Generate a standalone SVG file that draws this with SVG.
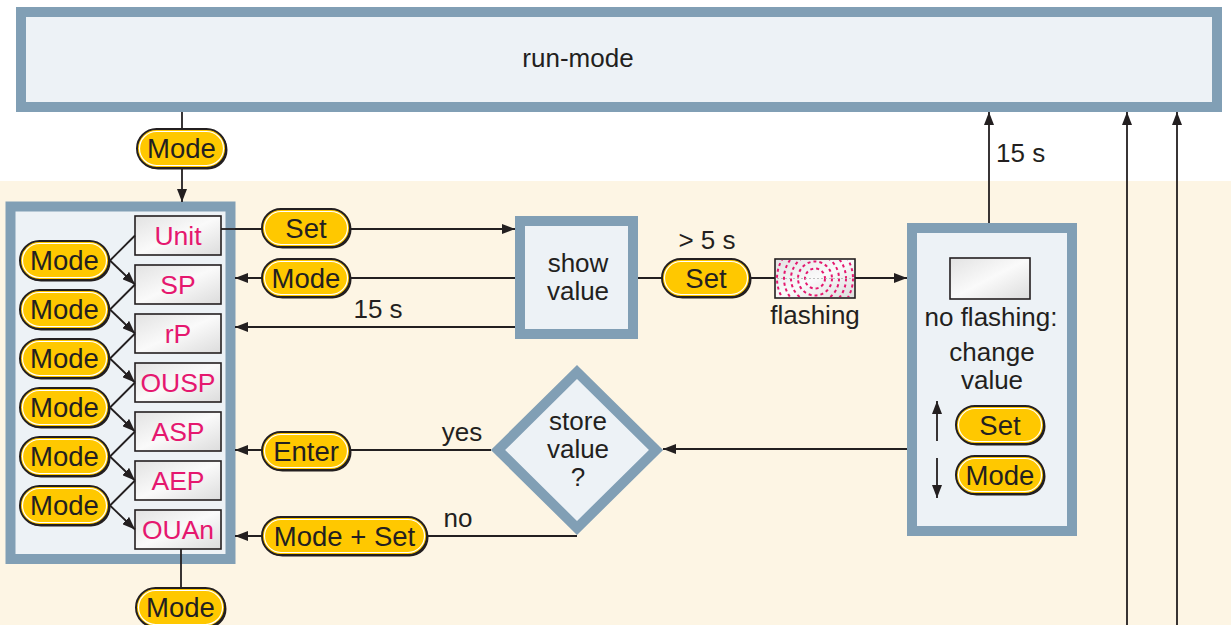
<svg xmlns="http://www.w3.org/2000/svg" width="1231" height="625" viewBox="0 0 1231 625">
  <defs>
    <style>
      .frame { fill: #edf2f6; stroke: #819fb5; stroke-width: 10; }
      .lbl { font-family: "Liberation Sans", Arial, sans-serif; fill: #231f20; text-anchor: middle; font-size: 26px; }
      .item { fill: url(#itemGrad); stroke: #231f20; stroke-width: 1.6; }
      .itemtxt { font-family: "Liberation Sans", Arial, sans-serif; fill: #e5186f; font-size: 26.5px; text-anchor: middle; }
      .pill { fill: #ffc800; stroke: #231f20; stroke-width: 2; }
      .pill-sh { fill: #231f20; }
      .pill-in { fill: none; stroke: #ffffff; stroke-width: 1.2; }
      .pilltxt { font-family: "Liberation Sans", Arial, sans-serif; fill: #231f20; font-size: 27.5px; text-anchor: middle; }
      .wire { fill: none; stroke: #231f20; stroke-width: 1.8; }
      .arr { marker-end: url(#head); }
    </style>
    <marker id="head" markerWidth="14" markerHeight="10" refX="13" refY="5" orient="auto" markerUnits="userSpaceOnUse">
      <path d="M0,0 L13,5 L0,10 z" fill="#231f20"/>
    </marker>
    <linearGradient id="itemGrad" x1="0" y1="0" x2="1" y2="1">
      <stop offset="0" stop-color="#e2e2e2"/>
      <stop offset="0.5" stop-color="#fafafa"/>
      <stop offset="1" stop-color="#dcdcdc"/>
    </linearGradient>
    <clipPath id="flashClip">
      <rect x="776" y="260" width="78" height="37"/>
    </clipPath>
  </defs>

  <!-- background bands -->
  <rect x="0" y="0" width="1231" height="625" fill="#ffffff"/>
  <rect x="0" y="181" width="1231" height="444" fill="#fdf5e4"/>

  <!-- run-mode -->
  <g id="run-mode">
    <rect class="frame" x="21" y="12" width="1196" height="95"/>
    <text class="lbl" x="578" y="67" font-size="28">run-mode</text>
  </g>

  <!-- menu column -->
  <g id="menu">
    <rect class="frame" x="10.5" y="206.5" width="220" height="352.5"/>
  </g>

  <g id="items">
    <g id="item-unit"><rect class="item" x="135" y="216" width="86" height="39"/><text class="itemtxt" x="178" y="245">Unit</text></g>
    <g id="item-sp"><rect class="item" x="135" y="265" width="86" height="39"/><text class="itemtxt" x="178" y="294">SP</text></g>
    <g id="item-rp"><rect class="item" x="135" y="314" width="86" height="39"/><text class="itemtxt" x="178" y="343">rP</text></g>
    <g id="item-ousp"><rect class="item" x="135" y="363" width="86" height="39"/><text class="itemtxt" x="178" y="392">OUSP</text></g>
    <g id="item-asp"><rect class="item" x="135" y="412" width="86" height="39"/><text class="itemtxt" x="178" y="441">ASP</text></g>
    <g id="item-aep"><rect class="item" x="135" y="461" width="86" height="39"/><text class="itemtxt" x="178" y="490">AEP</text></g>
    <g id="item-ouan"><rect class="item" x="135" y="510" width="86" height="39"/><text class="itemtxt" x="178" y="539">OUAn</text></g>
  </g>

  <!-- connectors -->
  <g id="connectors">
    <!-- menu stepping -->
    <path class="wire" d="M110,260.5 L135,235.5"/>
    <path class="wire arr" d="M110,260.5 L135,284.5"/>
    <path class="wire" d="M110,309.5 L135,284.5"/>
    <path class="wire arr" d="M110,309.5 L135,333.5"/>
    <path class="wire" d="M110,358.5 L135,333.5"/>
    <path class="wire arr" d="M110,358.5 L135,382.5"/>
    <path class="wire" d="M110,407.5 L135,382.5"/>
    <path class="wire arr" d="M110,407.5 L135,431.5"/>
    <path class="wire" d="M110,456.5 L135,431.5"/>
    <path class="wire arr" d="M110,456.5 L135,480.5"/>
    <path class="wire" d="M110,505.5 L135,480.5"/>
    <path class="wire arr" d="M110,505.5 L135,529.5"/>

    <!-- run-mode to menu -->
    <path class="wire arr" d="M182,112 L182,202"/>
    <!-- menu bottom -->
    <path class="wire" d="M181,549 L181,590"/>

    <!-- menu to show value and back -->
    <path class="wire" d="M221,229 L235,229"/>
    <path class="wire arr" d="M235,229 L515,229"/>
    <path class="wire arr" d="M515,278 L235,278"/>
    <path class="wire arr" d="M515,327 L235,327"/>

    <!-- show value to change value -->
    <path class="wire arr" d="M638,278 L907,278"/>

    <!-- change value to run-mode after 15 s -->
    <path class="wire arr" d="M989,223 L989,112"/>

    <!-- change value to store decision -->
    <path class="wire arr" d="M907,449 L663,449"/>
    <!-- yes branch -->
    <path class="wire arr" d="M491,450 L235,450"/>
    <!-- no branch -->
    <path class="wire arr" d="M577,536 L235,536"/>

    <!-- incoming from below -->
    <path class="wire arr" d="M1127,625 L1127,112"/>
    <path class="wire arr" d="M1177,625 L1177,112"/>
  </g>

  <!-- pill buttons -->
  <g id="btn-mode-top">
    <rect class="pill-sh" x="138.5" y="130.5" width="89" height="39" rx="19.5"/>
    <rect class="pill" x="137" y="129" width="89" height="39" rx="19.5"/>
    <rect class="pill-in" x="139.5" y="131.5" width="84" height="34" rx="17"/>
    <text class="pilltxt" x="181.5" y="158">Mode</text>
  </g>
  <g id="btn-mode-bottom">
    <rect class="pill-sh" x="137.5" y="589.5" width="89" height="39" rx="19.5"/>
    <rect class="pill" x="136" y="588" width="89" height="39" rx="19.5"/>
    <rect class="pill-in" x="138.5" y="590.5" width="84" height="34" rx="17"/>
    <text class="pilltxt" x="180.5" y="617">Mode</text>
  </g>

  <g id="btn-mode-1">
    <rect class="pill-sh" x="21.5" y="242.5" width="89" height="39" rx="19.5"/>
    <rect class="pill" x="20" y="241" width="89" height="39" rx="19.5"/>
    <rect class="pill-in" x="22.5" y="243.5" width="84" height="34" rx="17"/>
    <text class="pilltxt" x="64.5" y="270">Mode</text>
  </g>
  <g id="btn-mode-2">
    <rect class="pill-sh" x="21.5" y="291.5" width="89" height="39" rx="19.5"/>
    <rect class="pill" x="20" y="290" width="89" height="39" rx="19.5"/>
    <rect class="pill-in" x="22.5" y="292.5" width="84" height="34" rx="17"/>
    <text class="pilltxt" x="64.5" y="319">Mode</text>
  </g>
  <g id="btn-mode-3">
    <rect class="pill-sh" x="21.5" y="340.5" width="89" height="39" rx="19.5"/>
    <rect class="pill" x="20" y="339" width="89" height="39" rx="19.5"/>
    <rect class="pill-in" x="22.5" y="341.5" width="84" height="34" rx="17"/>
    <text class="pilltxt" x="64.5" y="368">Mode</text>
  </g>
  <g id="btn-mode-4">
    <rect class="pill-sh" x="21.5" y="389.5" width="89" height="39" rx="19.5"/>
    <rect class="pill" x="20" y="388" width="89" height="39" rx="19.5"/>
    <rect class="pill-in" x="22.5" y="390.5" width="84" height="34" rx="17"/>
    <text class="pilltxt" x="64.5" y="417">Mode</text>
  </g>
  <g id="btn-mode-5">
    <rect class="pill-sh" x="21.5" y="438.5" width="89" height="39" rx="19.5"/>
    <rect class="pill" x="20" y="437" width="89" height="39" rx="19.5"/>
    <rect class="pill-in" x="22.5" y="439.5" width="84" height="34" rx="17"/>
    <text class="pilltxt" x="64.5" y="466">Mode</text>
  </g>
  <g id="btn-mode-6">
    <rect class="pill-sh" x="21.5" y="487.5" width="89" height="39" rx="19.5"/>
    <rect class="pill" x="20" y="486" width="89" height="39" rx="19.5"/>
    <rect class="pill-in" x="22.5" y="488.5" width="84" height="34" rx="17"/>
    <text class="pilltxt" x="64.5" y="515">Mode</text>
  </g>

  <g id="btn-set-enter">
    <rect class="pill-sh" x="263.5" y="210.5" width="88" height="38" rx="19"/>
    <rect class="pill" x="262" y="209" width="88" height="38" rx="19"/>
    <rect class="pill-in" x="264.5" y="211.5" width="83" height="33" rx="16.5"/>
    <text class="pilltxt" x="306" y="238">Set</text>
  </g>
  <g id="btn-mode-back">
    <rect class="pill-sh" x="263.5" y="260.5" width="88" height="38" rx="19"/>
    <rect class="pill" x="262" y="259" width="88" height="38" rx="19"/>
    <rect class="pill-in" x="264.5" y="261.5" width="83" height="33" rx="16.5"/>
    <text class="pilltxt" x="306" y="288">Mode</text>
  </g>
  <text class="lbl" x="378" y="318">15 s</text>

  <g id="show-value">
    <rect class="frame" x="520" y="221" width="113" height="113"/>
    <text class="lbl" x="578" y="272">show</text>
    <text class="lbl" x="578" y="300">value</text>
  </g>

  <g id="btn-set-hold">
    <text class="lbl" x="707" y="249">&gt; 5 s</text>
    <rect class="pill-sh" x="663.5" y="260.5" width="88" height="38" rx="19"/>
    <rect class="pill" x="662" y="259" width="88" height="38" rx="19"/>
    <rect class="pill-in" x="664.5" y="261.5" width="83" height="33" rx="16.5"/>
    <text class="pilltxt" x="706" y="288">Set</text>
  </g>

  <g id="flashing">
    <rect x="775" y="259" width="80" height="39" fill="url(#itemGrad)" stroke="#231f20" stroke-width="1.6"/>
    <g clip-path="url(#flashClip)" fill="none" stroke="#e5186f" stroke-width="2" stroke-dasharray="3 3">
      <circle cx="815" cy="278.5" r="10"/>
      <circle cx="815" cy="278.5" r="17"/>
      <circle cx="815" cy="278.5" r="24"/>
      <circle cx="815" cy="278.5" r="31"/>
      <circle cx="815" cy="278.5" r="38"/>
    </g>
    <path d="M777,278.5 H853" stroke="#b0b0b0" stroke-width="0.8" stroke-dasharray="2 2"/>
    <text class="lbl" x="815" y="324">flashing</text>
  </g>

  <g id="change-value">
    <rect class="frame" x="912" y="228" width="160" height="303"/>
    <rect x="950" y="258" width="80" height="41" fill="url(#itemGrad)" stroke="#231f20" stroke-width="1.6"/>
    <text class="lbl" x="991" y="326">no flashing:</text>
    <text class="lbl" x="992" y="361">change</text>
    <text class="lbl" x="992" y="389">value</text>
    <!-- up / down hints -->
    <path class="wire arr" d="M937,441 L937,401"/>
    <path class="wire arr" d="M937,458 L937,498"/>
    <g id="btn-set-up">
      <rect class="pill-sh" x="957.5" y="407.5" width="88" height="38" rx="19"/>
      <rect class="pill" x="956" y="406" width="88" height="38" rx="19"/>
      <rect class="pill-in" x="958.5" y="408.5" width="83" height="33" rx="16.5"/>
      <text class="pilltxt" x="1000" y="435">Set</text>
    </g>
    <g id="btn-mode-down">
      <rect class="pill-sh" x="957.5" y="457.5" width="88" height="38" rx="19"/>
      <rect class="pill" x="956" y="456" width="88" height="38" rx="19"/>
      <rect class="pill-in" x="958.5" y="458.5" width="83" height="33" rx="16.5"/>
      <text class="pilltxt" x="1000" y="485">Mode</text>
    </g>
  </g>

  <text class="lbl" x="996" y="162" style="text-anchor:start">15 s</text>

  <g id="store-value">
    <polygon points="577,372 656,450 577,528 498,450" fill="#edf2f6" stroke="#819fb5" stroke-width="10" stroke-linejoin="miter"/>
    <text class="lbl" x="578" y="430" font-size="25">store</text>
    <text class="lbl" x="578" y="458" font-size="25">value</text>
    <text class="lbl" x="578" y="486" font-size="25">?</text>
  </g>

  <text class="lbl" x="462" y="441">yes</text>
  <text class="lbl" x="458" y="527">no</text>

  <g id="btn-enter">
    <rect class="pill-sh" x="263.5" y="433.5" width="88" height="38" rx="19"/>
    <rect class="pill" x="262" y="432" width="88" height="38" rx="19"/>
    <rect class="pill-in" x="264.5" y="434.5" width="83" height="33" rx="16.5"/>
    <text class="pilltxt" x="306" y="461">Enter</text>
  </g>
  <g id="btn-mode-set">
    <rect class="pill-sh" x="263.5" y="518.5" width="165" height="38" rx="19"/>
    <rect class="pill" x="262" y="517" width="165" height="38" rx="19"/>
    <rect class="pill-in" x="264.5" y="519.5" width="160" height="33" rx="16.5"/>
    <text class="pilltxt" x="344.5" y="546">Mode + Set</text>
  </g>
</svg>
